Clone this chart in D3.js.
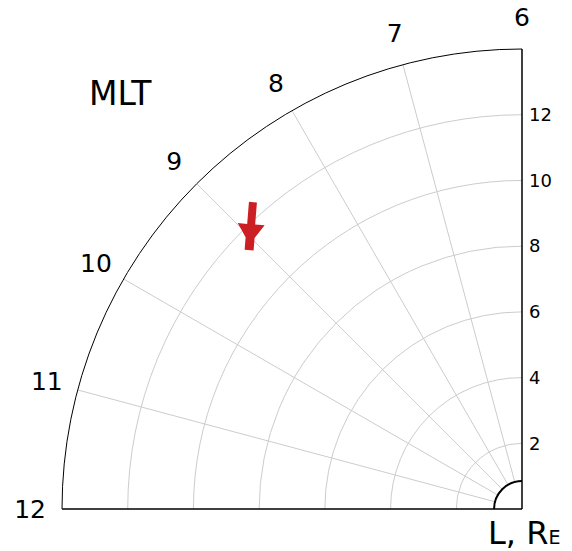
<!DOCTYPE html>
<html>
<head>
<meta charset="utf-8">
<script src="https://cdn.jsdelivr.net/npm/d3@7"></script>
<style>
  html, body { margin: 0; padding: 0; background: #fff; }
  svg { display: block; }
  text { font-family: "DejaVu Sans", Verdana, sans-serif; }
</style>
</head>
<body>
<svg id="chart" width="572" height="551"></svg>
<script>
// Radial distance (L, Earth radii) and magnetic local time sector
const lMax = 14;
const lGrid = [2, 4, 6, 8, 10, 12];
const lTickLabels = ["2", "4", "6", "8", "10", "12"];
const mltHours = [6, 7, 8, 9, 10, 11, 12];
const mltSpokes = [7, 8, 9, 10, 11];
const earthL = 0.85;
const labelL = 14.97;

// Arrow: tail and tip given as [L, MLT]
const arrowTail = [12.42, 8.75];
const arrowTip = [11.45, 9.1];

const W = 572, H = 551;
const cx = 522, cy = 509;
const rScale = d3.scaleLinear().domain([0, lMax]).range([0, 460]);
const angle = d3.scaleLinear().domain([6, 12]).range([0, Math.PI / 2]); // from up, toward left

function pos(L, mlt) {
  const r = rScale(L), a = angle(mlt);
  return [cx - r * Math.sin(a), cy - r * Math.cos(a)];
}

const svg = d3.select("#chart");

// circular grid arcs
function arcPath(L) {
  const p = d3.path();
  p.arc(cx, cy, rScale(L), -Math.PI / 2, -Math.PI, true);
  return p.toString();
}

svg.append("g").selectAll("path").data(lGrid).join("path")
  .attr("d", d => arcPath(d))
  .attr("fill", "none").attr("stroke", "#cccccc").attr("stroke-width", 1);

// MLT spokes
svg.append("g").selectAll("line").data(mltSpokes).join("line")
  .attr("x1", d => pos(earthL, d)[0]).attr("y1", d => pos(earthL, d)[1])
  .attr("x2", d => pos(lMax, d)[0]).attr("y2", d => pos(lMax, d)[1])
  .attr("stroke", "#cccccc").attr("stroke-width", 1);

// outer boundary
svg.append("path").attr("d", arcPath(lMax))
  .attr("fill", "none").attr("stroke", "#000").attr("stroke-width", 1);

// Earth
svg.append("path").attr("d", arcPath(earthL))
  .attr("fill", "none").attr("stroke", "#000").attr("stroke-width", 2);

// straight axes along MLT 6 and MLT 12
svg.append("line")
  .attr("x1", cx).attr("y1", cy).attr("x2", pos(lMax, 6)[0]).attr("y2", pos(lMax, 6)[1])
  .attr("stroke", "#000").attr("stroke-width", 1.5);
svg.append("line")
  .attr("x1", cx).attr("y1", cy).attr("x2", pos(lMax, 12)[0]).attr("y2", pos(lMax, 12)[1])
  .attr("stroke", "#000").attr("stroke-width", 1.5);

// L tick labels along the right axis
const yAxisScale = d3.scaleLinear().domain([0, lMax]).range([cy, cy - rScale(lMax)]);
const axis = svg.append("g").attr("transform", `translate(${cx},0)`)
  .call(d3.axisRight(yAxisScale).tickValues(lGrid)
    .tickFormat((d, i) => lTickLabels[i]).tickSize(0).tickPadding(7));
axis.select(".domain").remove();
axis.selectAll("text").attr("font-size", 18)
  .attr("font-family", "DejaVu Sans, Verdana, sans-serif").attr("fill", "#000");

// MLT hour labels
svg.append("g").selectAll("text").data(mltHours).join("text")
  .attr("x", d => pos(labelL, d)[0]).attr("y", d => pos(labelL, d)[1])
  .attr("text-anchor", "middle").attr("dominant-baseline", "central")
  .attr("font-size", 25).attr("fill", "#000")
  .text(d => d);

// titles
svg.append("text").attr("x", 89).attr("y", 105)
  .attr("font-size", 33).attr("fill", "#000").text("MLT");
const lt = svg.append("text").attr("x", 488).attr("y", 544)
  .attr("font-size", 32).attr("fill", "#000");
lt.append("tspan").text("L, R");
lt.append("tspan").attr("font-size", 19).text("E");

// arrow
(function drawArrow() {
  const [x0, y0] = pos(arrowTail[0], arrowTail[1]);
  const [x1, y1] = pos(arrowTip[0], arrowTip[1]);
  const len = Math.hypot(x1 - x0, y1 - y0);
  const ux = (x1 - x0) / len, uy = (y1 - y0) / len;
  const vx = -uy, vy = ux;
  // outline: [distance along arrow, half-width]
  const shape = [[0, 4], [len * 0.46, 4], [len * 0.46, 13.5], [len * 0.74, 4.5], [len, 4.5]];
  const right = shape.map(([u, w]) => [x0 + ux * u + vx * w, y0 + uy * u + vy * w]);
  const left = shape.slice().reverse().map(([u, w]) => [x0 + ux * u - vx * w, y0 + uy * u - vy * w]);
  svg.append("path")
    .attr("d", d3.line()(right.concat(left)) + "Z")
    .attr("fill", "#cc1f24").attr("stroke", "none");
})();
</script>
</body>
</html>
